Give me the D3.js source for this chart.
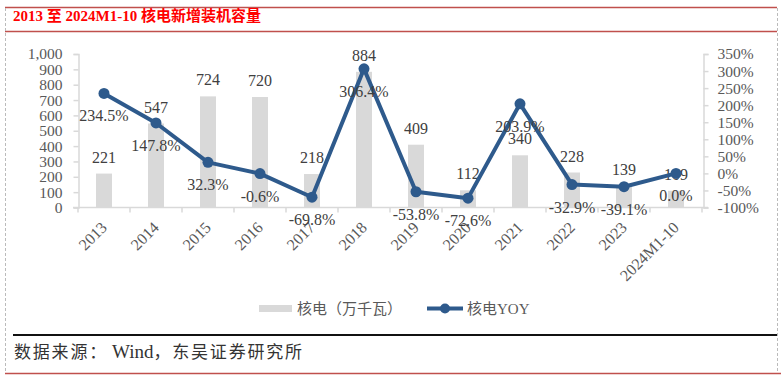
<!DOCTYPE html>
<html><head><meta charset="utf-8">
<script src="https://cdn.jsdelivr.net/npm/d3@7/dist/d3.min.js"></script>
<style>
body{margin:0;background:#fff;}
svg{display:block;}
text{font-family:"Liberation Serif","Noto Sans CJK SC",serif;}
</style></head>
<body><svg id="c" width="781" height="382"></svg>
<script>
const categories = ["2013","2014","2015","2016","2017","2018","2019","2020","2021","2022","2023","2024M1-10"];
const capacity = [221,547,724,720,218,884,409,112,340,228,139,109];
const yoy = [234.5,147.8,32.3,-0.6,-69.8,306.4,-53.8,-72.6,203.9,-32.9,-39.1,0.0];
const leftTicks = [0,100,200,300,400,500,600,700,800,900,1000];
const rightTicks = [-100,-50,0,50,100,150,200,250,300,350];
const titleText = "2013 至 2024M1-10 核电新增装机容量";
const sourcePre = "数据来源：";
const sourceMid = "Wind";
const sourcePost = "，东吴证券研究所";
const legendLabels = ["核电（万千瓦）","核电YOY"];

const svg = d3.select("#c");
const barColor = "#d9d9d9", lineColor = "#2E5A8C", axisColor = "#d9d9d9", tickText = "#595959";

// frame
svg.append("line").attr("x1",5).attr("x2",777).attr("y1",7.5).attr("y2",7.5).attr("stroke","#c0504d").attr("stroke-width",1.5);
svg.append("line").attr("x1",5).attr("x2",777).attr("y1",31.5).attr("y2",31.5).attr("stroke","#c0504d").attr("stroke-width",1.5);
svg.append("line").attr("x1",5.5).attr("x2",5.5).attr("y1",8).attr("y2",373).attr("stroke","#bbb").attr("stroke-dasharray","3,2");
svg.append("line").attr("x1",777.5).attr("x2",777.5).attr("y1",8).attr("y2",373).attr("stroke","#bbb").attr("stroke-dasharray","3,2");
svg.append("line").attr("x1",5).attr("x2",781).attr("y1",373.5).attr("y2",373.5).attr("stroke","#c0504d").attr("stroke-width",1.5);
svg.append("line").attr("x1",13).attr("x2",777).attr("y1",335).attr("y2",335).attr("stroke","#111").attr("stroke-width",2.2);

svg.append("text").attr("x",13).attr("y",21).attr("fill","#ff0000").attr("font-weight","bold").attr("font-size",15).text(titleText);
const src = svg.append("text").attr("x",14).attr("y",358).attr("fill","#333").attr("font-size",17);
src.append("tspan").attr("letter-spacing",1.8).text(sourcePre);
src.append("tspan").attr("font-size",19).attr("dx",4).text(sourceMid);
src.append("tspan").attr("letter-spacing",1.8).text(sourcePost);

// scales
const x = d3.scaleBand().domain(categories).range([78,702]).padding(0);
const yL = d3.scaleLinear().domain([0,1000]).range([207.5,54]);
const yR = d3.scaleLinear().domain([-100,350]).range([207.5,54]);

// axes
const gL = svg.append("g").attr("transform","translate(78.5,0)")
  .call(d3.axisLeft(yL).tickValues(leftTicks).tickFormat(d3.format(",")).tickSize(5).tickPadding(11));
const gR = svg.append("g").attr("transform","translate(703.5,0)")
  .call(d3.axisRight(yR).tickValues(rightTicks).tickFormat(d=>d+"%").tickSize(5).tickPadding(9));
[gL,gR].forEach(g=>{
  g.selectAll("path.domain").attr("stroke",axisColor).attr("stroke-width",1.5);
  g.selectAll(".tick line").attr("stroke",axisColor).attr("stroke-width",1.5);
  g.selectAll(".tick text").attr("fill",tickText).attr("font-size",15.5).attr("font-family","Liberation Serif");
});

// x axis
const gX = svg.append("g").attr("transform","translate(0,207.5)");
gX.append("line").attr("x1",73).attr("x2",708).attr("y1",0).attr("y2",0).attr("stroke",axisColor).attr("stroke-width",1.5);
const bounds = categories.map(c=>x(c)).concat([x(categories[categories.length-1])+x.bandwidth()]);
gX.selectAll("line.tk").data(bounds).join("line").attr("class","tk")
  .attr("x1",d=>d).attr("x2",d=>d).attr("y1",0).attr("y2",5).attr("stroke",axisColor).attr("stroke-width",1.5);
gX.selectAll("text.xl").data(categories).join("text").attr("class","xl")
  .attr("transform",d=>`translate(${x(d)+x.bandwidth()/2+4},21) rotate(-45)`)
  .attr("text-anchor","end").attr("fill",tickText).attr("font-size",16).text(d=>d);

// bars
const bw = 16;
svg.selectAll("rect.bar").data(capacity).join("rect").attr("class","bar")
  .attr("x",(d,i)=>x(categories[i])+x.bandwidth()/2-bw/2).attr("width",bw)
  .attr("y",d=>yL(d)).attr("height",d=>yL(0)-yL(d)).attr("fill",barColor);

// bar labels
svg.selectAll("text.bl").data(capacity).join("text").attr("class","bl")
  .attr("x",(d,i)=>x(categories[i])+x.bandwidth()/2).attr("y",d=>yL(d)-11)
  .attr("text-anchor","middle").attr("fill","#404040").attr("font-size",16).text(d=>d);

// line
const line = d3.line().x((d,i)=>x(categories[i])+x.bandwidth()/2).y(d=>yR(d));
svg.append("path").datum(yoy).attr("d",line).attr("fill","none").attr("stroke",lineColor).attr("stroke-width",4).attr("stroke-linejoin","round");
svg.selectAll("circle.pt").data(yoy).join("circle").attr("class","pt")
  .attr("cx",(d,i)=>x(categories[i])+x.bandwidth()/2).attr("cy",d=>yR(d)).attr("r",5.5).attr("fill",lineColor);

// yoy labels
svg.selectAll("text.yl").data(yoy).join("text").attr("class","yl")
  .attr("x",(d,i)=>x(categories[i])+x.bandwidth()/2).attr("y",d=>yR(d)+28)
  .attr("text-anchor","middle").attr("fill","#404040").attr("font-size",16).text(d=>d.toFixed(1)+"%");

// legend
const lg = svg.append("g");
lg.append("rect").attr("x",259).attr("y",305).attr("width",33).attr("height",7).attr("fill",barColor);
lg.append("text").attr("x",297).attr("y",314).attr("fill",tickText).attr("font-size",15).text(legendLabels[0]);
lg.append("line").attr("x1",427).attr("x2",463).attr("y1",308.5).attr("y2",308.5).attr("stroke",lineColor).attr("stroke-width",4);
lg.append("circle").attr("cx",445).attr("cy",308.5).attr("r",5).attr("fill",lineColor);
lg.append("text").attr("x",467).attr("y",314).attr("fill",tickText).attr("font-size",15).text(legendLabels[1]);
</script></body></html>
